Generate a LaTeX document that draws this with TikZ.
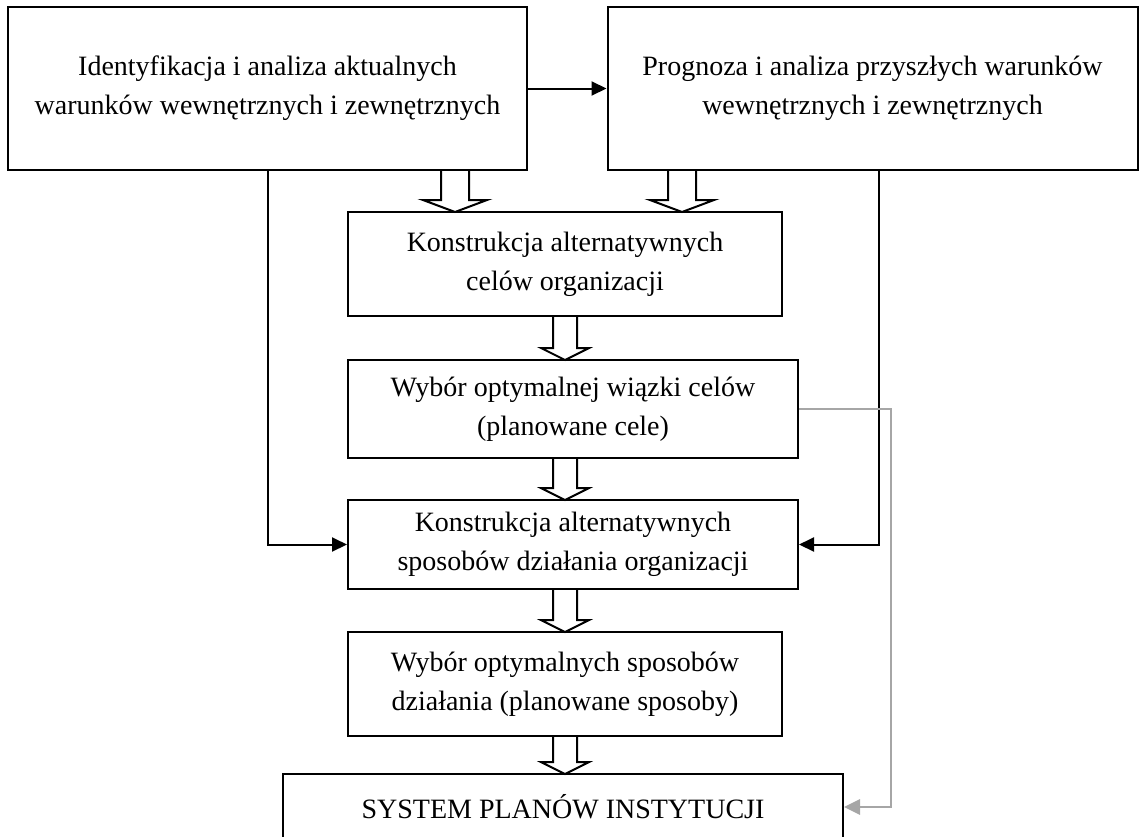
\documentclass[tikz,border=0pt]{standalone}
\usepackage{fontspec}
\setmainfont{Liberation Serif}
\usetikzlibrary{arrows.meta,calc}
\tikzset{
  box/.style={draw, line width=1pt, align=center, inner sep=0pt, font=\fontsize{14}{19.5}\selectfont},
  conn/.style={line width=1pt, -{Triangle[length=7.5pt,width=7pt]}},
  gconn/.style={line width=1.4pt, draw=black!35, -{Triangle[length=8pt,width=7.5pt]}},
  hollow/.style={draw, fill=white, line width=1pt, line join=miter}
}
\newcommand\hollowarr[5]{%
  \draw[hollow] (#1-#4,#2) -- (#1-#4,#3-12) -- (#1-#5,#3-12) -- (#1,#3) -- (#1+#5,#3-12) -- (#1+#4,#3-12) -- (#1+#4,#2);}
\begin{document}
\begin{tikzpicture}[x=0.5pt,y=-0.5pt]
\useasboundingbox (0,0) rectangle (1145,836);
% hollow arrows (drawn first, boxes on top)
\hollowarr{455}{170}{212}{14}{32}
\hollowarr{682}{170}{212}{14}{32}
\hollowarr{565}{316}{360}{12}{24}
\hollowarr{565}{458}{500}{12}{24}
\hollowarr{565}{589}{632}{12}{24}
\hollowarr{565}{736}{774}{12}{24}
% boxes
\node[box, minimum width=259.5pt, minimum height=81.5pt] (b1) at (267.5,88.5)
  {Identyfikacja i analiza aktualnych\\warunków wewnętrznych i zewnętrznych};
\node[box, minimum width=265pt, minimum height=81.5pt] (b2) at (872.5,88.5)
  {Prognoza i analiza przyszłych warunków\\wewnętrznych i zewnętrznych};
\node[box, minimum width=217pt, minimum height=52pt] (b3) at (565,264)
  {Konstrukcja alternatywnych\\celów organizacji};
\node[box, minimum width=225pt, minimum height=49pt] (b4) at (573,409)
  {Wybór optymalnej wiązki celów\\(planowane cele)};
\node[box, minimum width=225pt, minimum height=44.5pt] (b5) at (573,544.5)
  {Konstrukcja alternatywnych\\sposobów działania organizacji};
\node[box, minimum width=217pt, minimum height=52pt] (b6) at (565,684)
  {Wybór optymalnych sposobów\\działania (planowane sposoby)};
\node[box, minimum width=280pt, minimum height=33pt] (b7) at (563,807)
  {SYSTEM PLANÓW INSTYTUCJI};
% connectors
\coordinate (lx) at (268,0);
\coordinate (rx) at (879,0);
\coordinate (gx) at (891,0);
\draw[conn] (b1.east) -- (b2.west);
\draw[conn] (lx |- b1.south) |- (b5.west);
\draw[conn] (rx |- b2.south) |- (b5.east);
\draw[gconn] (b4.east) -- (gx |- b4.east) -- (gx |- b7.east) -- (b7.east);
\end{tikzpicture}
\end{document}
